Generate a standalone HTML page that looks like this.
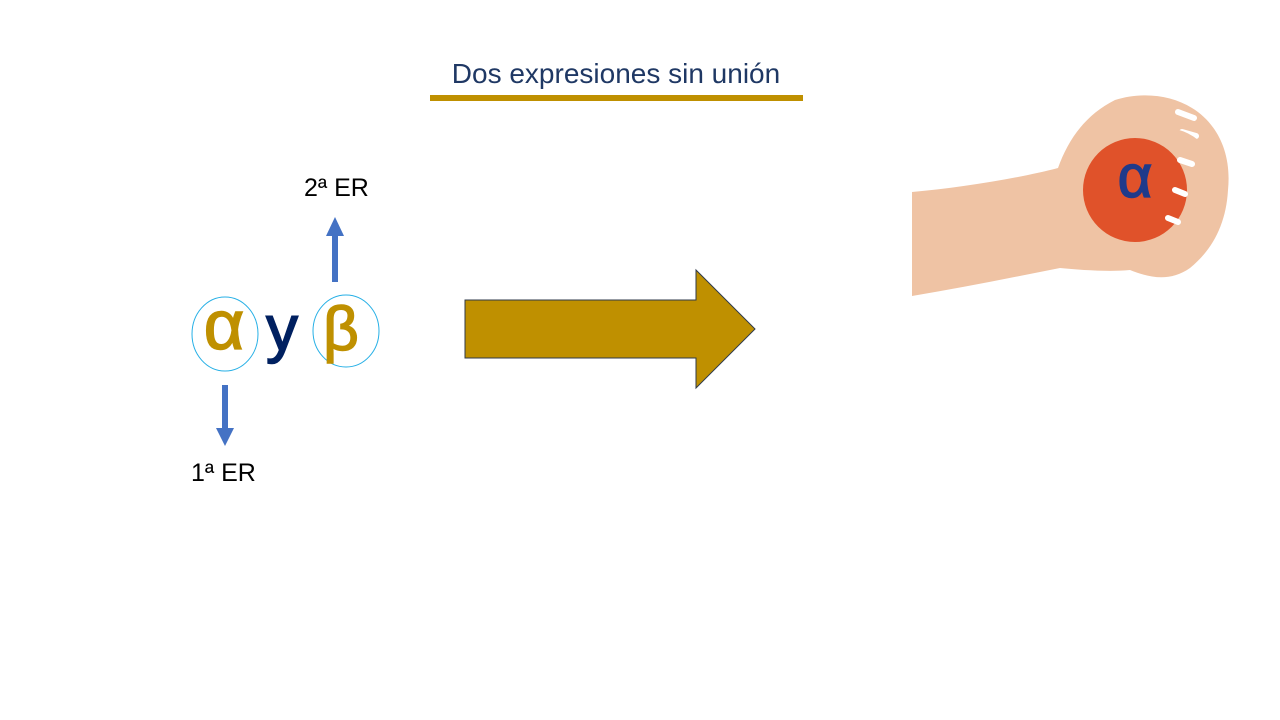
<!DOCTYPE html>
<html><head><meta charset="utf-8"><style>
html,body{margin:0;padding:0;background:#fff;}
body{width:1280px;height:720px;position:relative;overflow:hidden;font-family:"Liberation Sans","DejaVu Sans",sans-serif;}
.t{position:absolute;white-space:nowrap;}
</style></head><body>
<div class="t" style="left:430px;top:58px;width:372px;text-align:center;font-size:28px;color:#1f3864;">Dos expresiones sin unión</div>
<div style="position:absolute;left:430px;top:95px;width:373px;height:6px;background:#bf9000;"></div>
<svg width="1280" height="720" style="position:absolute;left:0;top:0">
  <ellipse cx="225" cy="334" rx="33" ry="37" fill="none" stroke="#27b0e6" stroke-width="1"/>
  <ellipse cx="346" cy="331" rx="33" ry="36" fill="none" stroke="#27b0e6" stroke-width="1"/>
  <text x="224" y="349" text-anchor="middle" font-size="70" fill="#bf9000" stroke="#bf9000" stroke-width="1.5" font-family="Liberation Sans, DejaVu Sans, sans-serif">α</text>
  <text x="282" y="350" text-anchor="middle" font-size="64" fill="#002060" stroke="#002060" stroke-width="1.5" font-family="Liberation Sans, DejaVu Sans, sans-serif">y</text>
  <text x="341" y="350" text-anchor="middle" font-size="62" fill="#bf9000" stroke="#bf9000" stroke-width="1.5" font-family="Liberation Sans, DejaVu Sans, sans-serif">β</text>
  <g fill="#4472c4"><rect x="222" y="385" width="6" height="45"/><polygon points="216,428 234,428 225,446"/></g>
  <g fill="#4472c4"><rect x="332" y="232" width="6" height="50"/><polygon points="326,236 344,236 335,217"/></g>
  <text x="191" y="481" font-size="25" fill="#000" font-family="Liberation Sans, sans-serif">1ª ER</text>
  <text x="304" y="196" font-size="25" fill="#000" font-family="Liberation Sans, sans-serif">2ª ER</text>
  <polygon points="465,300 696,300 696,270 755,329 696,388 696,358 465,358" fill="#bf9000" stroke="#2f3a4a" stroke-width="1"/>
  <g>
    <path d="M912,192 C960,188 1020,178 1058,168 C1068,140 1085,115 1115,100 C1140,92 1170,94 1192,108 C1215,122 1232,150 1228,190 C1226,225 1212,250 1190,268 C1170,282 1150,278 1130,270 C1110,272 1080,270 1060,268 C1010,278 960,288 912,296 Z" fill="#efc3a4"/>
    <circle cx="1135" cy="190" r="52" fill="#e0522a"/>
    <path d="M1178,112 l16,6 M1182,132 l14,4 M1180,160 l12,4 M1175,190 l10,4 M1168,218 l10,4" stroke="#fff" stroke-width="6" stroke-linecap="round"/>
    <path d="M1170,135 C1200,140 1215,165 1205,200 C1198,225 1185,250 1165,262" stroke="#efc3a4" stroke-width="14" fill="none"/>
    <text x="1135" y="197" text-anchor="middle" font-size="60" fill="#1f3a8a" stroke="#1f3a8a" stroke-width="1.5" font-family="Liberation Sans, DejaVu Sans, sans-serif">α</text>
  </g>
</svg>
</body></html>
